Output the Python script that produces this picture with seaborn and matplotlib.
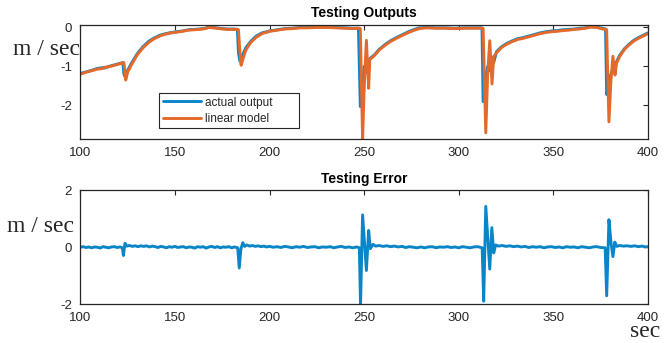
import numpy as np
import pandas as pd
import matplotlib
matplotlib.use("Agg")
import matplotlib.pyplot as plt
import seaborn as sns

# time axis of the two output traces (sec)
t_out = [100, 103, 106, 109, 112, 113, 115, 118, 121, 122.5, 123, 123.5, 124, 125, 127,
         130, 133, 136, 139, 142, 145, 148, 151, 154, 157, 160, 163, 166, 168, 170,
         172, 175, 178, 181, 183, 183.6, 184.3, 185, 186, 187.5, 190, 193, 196, 200,
         204, 208, 212, 216, 220, 225, 230, 235, 240, 244, 247, 248, 248.6, 249.2,
         250, 251.2, 252.4, 253, 254, 255.5, 258, 261, 264, 267, 270, 273, 276, 279,
         283, 288, 293, 298, 303, 308, 312.3, 312.9, 313.6, 314.3, 315.3, 316.4,
         317.6, 318.5, 320, 322.5, 325, 328, 331, 334, 337, 340, 343, 346, 349, 352,
         355, 358, 361, 364, 367, 370, 373, 376, 377.6, 378.2, 378.8, 379.4, 380.4,
         381.5, 382.6, 383.4, 385, 387.5, 390, 392.5, 395, 397.5, 400]

actual_output = [-1.18, -1.14, -1.10, -1.05, -1.03, -1.04, -1.00, -0.96, -0.92, -0.90,
                 -1.18, -1.25, -1.28, -1.10, -0.92, -0.68, -0.50, -0.36, -0.27, -0.20,
                 -0.16, -0.13, -0.11, -0.09, -0.06, -0.05, -0.04, -0.02, 0.01, 0.00,
                 -0.01, -0.03, -0.04, -0.04, -0.05, -0.65, -0.85, -0.90, -0.68, -0.52,
                 -0.36, -0.22, -0.14, -0.09, -0.06, -0.03, -0.02, 0.00, 0.00, 0.01,
                 0.01, 0.00, -0.01, -0.02, -0.02, -2.03, -1.90, -1.72, -1.00, -1.15,
                 -0.97, -0.80, -0.76, -0.70, -0.56, -0.44, -0.34, -0.26, -0.19, -0.12,
                 -0.06, -0.01, 0.00, -0.01, -0.01, -0.02, -0.01, -0.01, -0.01, -1.90,
                 -1.85, -1.26, -1.00, -1.11, -0.76, -0.90, -0.62, -0.50, -0.42, -0.35,
                 -0.29, -0.26, -0.22, -0.18, -0.14, -0.11, -0.09, -0.08, -0.06, -0.05,
                 -0.04, -0.02, -0.01, 0.02, 0.01, -0.02, -0.04, -1.72, -1.60, -1.45,
                 -1.20, -1.07, -1.04, -0.88, -0.72, -0.55, -0.43, -0.33, -0.26, -0.20,
                 -0.14]

linear_model = [-1.20, -1.15, -1.11, -1.07, -1.05, -1.02, -1.01, -0.97, -0.93, -0.91,
                -0.90, -1.10, -1.35, -1.15, -0.96, -0.71, -0.53, -0.39, -0.29, -0.22,
                -0.17, -0.14, -0.12, -0.10, -0.07, -0.06, -0.05, -0.03, 0.00, -0.01,
                -0.02, -0.04, -0.05, -0.05, -0.05, -0.06, -0.60, -0.97, -0.80, -0.58,
                -0.39, -0.25, -0.16, -0.10, -0.07, -0.04, -0.03, -0.01, -0.01, 0.00,
                0.00, -0.01, -0.02, -0.03, -0.02, -0.03, -1.50, -2.86, -1.60, -0.33,
                -1.56, -0.82, -0.78, -0.72, -0.58, -0.46, -0.36, -0.28, -0.21, -0.14,
                -0.08, -0.03, -0.01, -0.02, -0.02, -0.03, -0.02, -0.02, -0.02, -0.03,
                -1.40, -2.70, -1.20, -0.34, -1.45, -0.75, -0.65, -0.52, -0.44, -0.37,
                -0.31, -0.28, -0.24, -0.20, -0.16, -0.13, -0.11, -0.10, -0.08, -0.07,
                -0.05, -0.04, -0.02, 0.01, 0.00, -0.04, -0.05, -0.06, -1.30, -2.42,
                -1.40, -0.74, -1.22, -0.92, -0.75, -0.57, -0.45, -0.35, -0.28, -0.22,
                -0.16]

# testing error trace
t_err = [100, 101.5, 103, 104.5, 106, 107.5, 109, 110.5, 112, 113.5, 115, 116.5, 118,
         119.5, 121, 122.2, 122.8, 123.6, 124.5, 126, 127.5, 129, 130.5, 132, 133.5,
         135, 136.5, 138, 139.5, 141, 142.5, 144, 145.5, 147, 148.5, 150, 151.5, 153,
         154.5, 156, 157.5, 159, 160.5, 162, 163.5, 165, 166.5, 168, 169.5, 171,
         172.5, 174, 175.5, 177, 178.5, 180, 181.5, 183.2, 184, 184.9, 185.9, 186.8,
         188, 189.5, 191, 192.5, 194, 195.5, 197, 198.5, 200, 202, 204, 206, 208, 210,
         212, 214, 216, 218, 220, 222, 224, 226, 228, 230, 232, 234, 236, 238, 240,
         242, 244, 246, 247.5, 248.1, 249.2, 250.2, 251.2, 252.4, 253.3, 254.7, 256,
         258, 260, 262, 264, 266, 268, 270, 272, 274, 276, 278, 280, 282, 284, 286,
         288, 290, 292, 294, 296, 298, 300, 302, 304, 306, 308, 310, 312.4, 313.2,
         314.3, 315.4, 316.4, 317.5, 318.5, 319.5, 321, 323, 325, 327, 329, 331, 333,
         335, 337, 339, 341, 343, 345, 347, 349, 351, 353, 355, 357, 359, 361, 363,
         365, 367, 369, 371, 373, 375, 377.4, 378.2, 379.4, 380.5, 381.5, 382.5,
         383.5, 385, 387, 389, 391, 393, 395, 397, 398.5, 400]

testing_error = [0.00, 0.02, -0.01, 0.01, -0.02, 0.01, 0.00, -0.03, 0.02, 0.00, -0.02,
                 0.01, 0.02, -0.01, 0.01, -0.02, -0.29, 0.14, 0.04, 0.06, 0.03, 0.05,
                 0.02, 0.05, 0.03, 0.05, 0.01, 0.04, 0.02, -0.01, 0.03, 0.01, -0.02,
                 0.02, 0.00, 0.03, -0.01, 0.01, 0.02, -0.02, 0.01, 0.00, -0.03, 0.02,
                 0.00, 0.02, -0.03, 0.01, 0.03, -0.01, 0.02, -0.02, 0.01, 0.00, 0.02,
                 -0.02, 0.01, -0.02, -0.73, -0.05, 0.16, 0.03, 0.08, 0.04, 0.06, 0.03,
                 0.05, 0.02, 0.04, 0.01, 0.03, 0.00, 0.02, -0.01, 0.03, 0.01, -0.02,
                 0.02, 0.00, 0.03, -0.01, 0.01, 0.02, -0.02, 0.01, 0.00, 0.02, -0.02,
                 0.01, 0.03, -0.01, 0.01, -0.02, 0.01, -0.02, -2.05, 1.14, 0.15, -0.82,
                 0.59, -0.05, 0.10, 0.04, 0.06, 0.03, 0.05, 0.02, 0.04, 0.01, 0.03,
                 -0.01, 0.02, 0.00, -0.02, 0.01, -0.02, 0.01, 0.02, -0.02, 0.01, 0.00,
                 0.02, -0.01, 0.01, -0.02, 0.02, 0.00, -0.02, 0.01, 0.02, -0.02, -1.90,
                 1.44, 0.25, -0.77, 0.69, -0.20, 0.08, 0.04, 0.06, 0.03, 0.05, 0.02,
                 0.04, 0.01, 0.03, -0.01, 0.02, 0.00, 0.02, -0.02, 0.01, 0.02, -0.01,
                 0.01, -0.02, 0.02, 0.00, 0.01, -0.02, 0.02, 0.00, -0.02, 0.01, 0.02,
                 -0.01, -0.02, -1.71, 0.97, 0.15, -0.33, 0.18, 0.03, 0.06, 0.04, 0.05,
                 0.03, 0.05, 0.02, 0.04, 0.01, 0.02]

x_ticks = [100, 150, 200, 250, 300, 350, 400]

blue = '#0a86c8'
orange = '#e4692a'
dark = '#262626'

sns.set_theme(style='white')
plt.rcParams['font.family'] = ['Liberation Sans', 'DejaVu Sans']
plt.rcParams['axes.unicode_minus'] = False
plt.rcParams['axes.edgecolor'] = dark
plt.rcParams['axes.linewidth'] = 0.9

fig = plt.figure(figsize=(6.67, 3.43), dpi=100)
ax1 = fig.add_axes([0.1204, 0.5948, 0.851, 0.332])
ax2 = fig.add_axes([0.1204, 0.1137, 0.851, 0.331])

outputs = pd.DataFrame({'t': t_out, 'actual': actual_output, 'model': linear_model})
errors = pd.DataFrame({'t': t_err, 'err': testing_error})

sns.lineplot(data=outputs, x='t', y='actual', ax=ax1, color=blue, linewidth=2.1,
             sort=False, label='actual output')
sns.lineplot(data=outputs, x='t', y='model', ax=ax1, color=orange, linewidth=2.1,
             sort=False, label='linear model')
sns.lineplot(data=errors, x='t', y='err', ax=ax2, color=blue, linewidth=2.1, sort=False)

ax1.set_xlim(100, 400)
ax1.set_ylim(-2.86, 0.06)
ax1.set_yticks([-2, -1, 0])
ax2.set_xlim(100, 400)
ax2.set_ylim(-2, 2)
ax2.set_yticks([-2, 0, 2])

for ax in (ax1, ax2):
    ax.set_xticks(x_ticks)
    ax.set_xlabel('')
    ax.set_ylabel('')
    ax.tick_params(direction='in', length=3.5, width=0.8, top=True, right=True,
                   labelsize=9.5, colors=dark)
    ax.tick_params(axis='x', pad=6)
    ax.tick_params(axis='y', pad=6)
    for s in ax.spines.values():
        s.set_visible(True)
        s.set_color(dark)

ax1.set_title('Testing Outputs', fontsize=10, fontweight='bold', pad=5.5, color='black')
ax2.set_title('Testing Error', fontsize=10, fontweight='bold', pad=5.5, color='black')

leg = ax1.legend(loc='lower left', bbox_to_anchor=(0.139, 0.094, 0.246, 0.298),
                 mode='expand', fontsize=8.5, handlelength=3.2, handletextpad=0.35,
                 borderpad=0.3, labelspacing=0.35, fancybox=False, framealpha=1,
                 borderaxespad=0)
leg.get_frame().set_edgecolor(dark)
leg.get_frame().set_linewidth(0.8)

fig.text(13 / 667, 1 - 55 / 343, 'm / sec', family='Liberation Serif', fontsize=17,
         ha='left', va='baseline')
fig.text(7 / 667, 1 - 232 / 343, 'm / sec', family='Liberation Serif', fontsize=17,
         ha='left', va='baseline')
fig.text(660 / 667, 1 - 337 / 343, 'sec', family='Liberation Serif', fontsize=17,
         ha='right', va='baseline')

fig.savefig('out.png', dpi=100)
